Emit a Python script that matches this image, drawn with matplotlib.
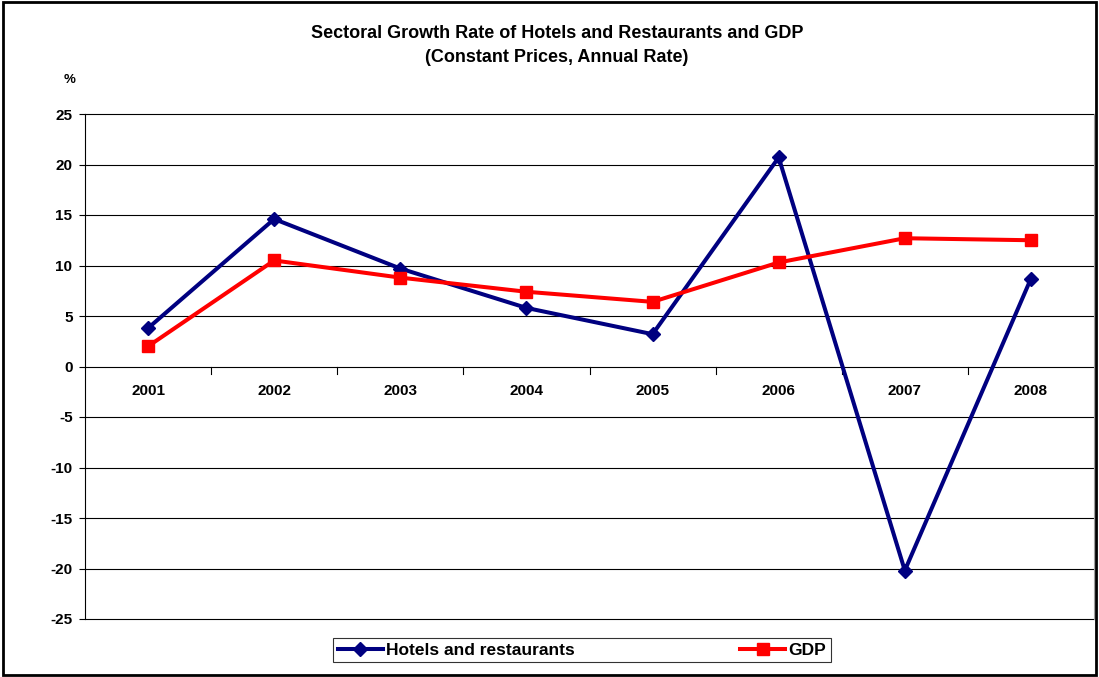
import numpy as np
import matplotlib.pyplot as plt
from matplotlib.patches import Rectangle

# Data
years = ["2001", "2002", "2003", "2004", "2005", "2006", "2007", "2008"]
hotels = [3.8, 14.6, 9.7, 5.8, 3.2, 20.7, -20.2, 8.7]
gdp = [2.0, 10.5, 8.8, 7.4, 6.4, 10.3, 12.7, 12.5]
y_ticks = [25, 20, 15, 10, 5, 0, -5, -10, -15, -20, -25]

plt.rcParams['font.family'] = ['Liberation Sans', 'DejaVu Sans']
plt.rcParams['font.weight'] = 'bold'

fig = plt.figure(figsize=(10.99, 6.77), dpi=100)
W, H = 1099, 677
# plot area in pixels: x 85..1094, y 114..619
ax = fig.add_axes([85 / W, 1 - 619 / H, (1094 - 85) / W, (619 - 114) / H])

x = np.arange(len(years))
ax.plot(x, hotels, color='#000080', lw=2.9, marker='D', ms=7,
        label='Hotels and restaurants', zorder=3)
ax.plot(x, gdp, color='#ff0000', lw=2.9, marker='s', ms=9,
        label='GDP', zorder=3)

ax.set_xlim(-0.5, len(years) - 0.5)
ax.set_ylim(-25, 25)
ax.set_yticks(y_ticks)
ax.set_yticklabels([str(v) for v in y_ticks], fontsize=11, fontweight='bold')
ax.tick_params(axis='y', length=4, width=0.8, pad=5)
ax.set_xticks([])
for yv in y_ticks:
    ax.axhline(yv, color='black', lw=0.8, zorder=1, clip_on=False)

# x axis at zero with ticks between categories
for xb in np.arange(-0.5, len(years), 1.0)[1:-1]:
    ax.plot([xb, xb], [0, -0.7], color='black', lw=0.8, zorder=2)
for xi, lab in zip(x, years):
    ax.text(xi, -2.4, lab, ha='center', va='center', fontsize=11, fontweight='bold')

for s in ['top', 'bottom']:
    ax.spines[s].set_visible(False)
ax.spines['left'].set_color('black')
ax.spines['left'].set_linewidth(0.8)
ax.spines['right'].set_color('#a0a0a0')
ax.spines['right'].set_linewidth(0.8)

fig.text(557 / W, 1 - 33 / H, 'Sectoral Growth Rate of Hotels and Restaurants and GDP',
         ha='center', va='center', fontsize=13, fontweight='bold')
fig.text(557 / W, 1 - 57 / H, '(Constant Prices, Annual Rate)',
         ha='center', va='center', fontsize=13, fontweight='bold')
fig.text(70 / W, 1 - 80 / H, '%', ha='center', va='center', fontsize=9.5, fontweight='bold')

leg = fig.legend(loc='center', bbox_to_anchor=(582 / W, 1 - 650 / H), ncol=2,
                 frameon=True, fancybox=False, edgecolor='black', fontsize=12.5,
                 handlelength=2.6, columnspacing=9.5, borderpad=0.25, handletextpad=0.2)
leg.get_frame().set_linewidth(0.8)
for t in leg.get_texts():
    t.set_fontweight('bold')

# outer chart border
fig.patches.append(Rectangle((0.003, 0.003), 0.994, 0.994, transform=fig.transFigure,
                             fill=False, edgecolor='black', lw=2))

fig.savefig('out.png', dpi=100)
